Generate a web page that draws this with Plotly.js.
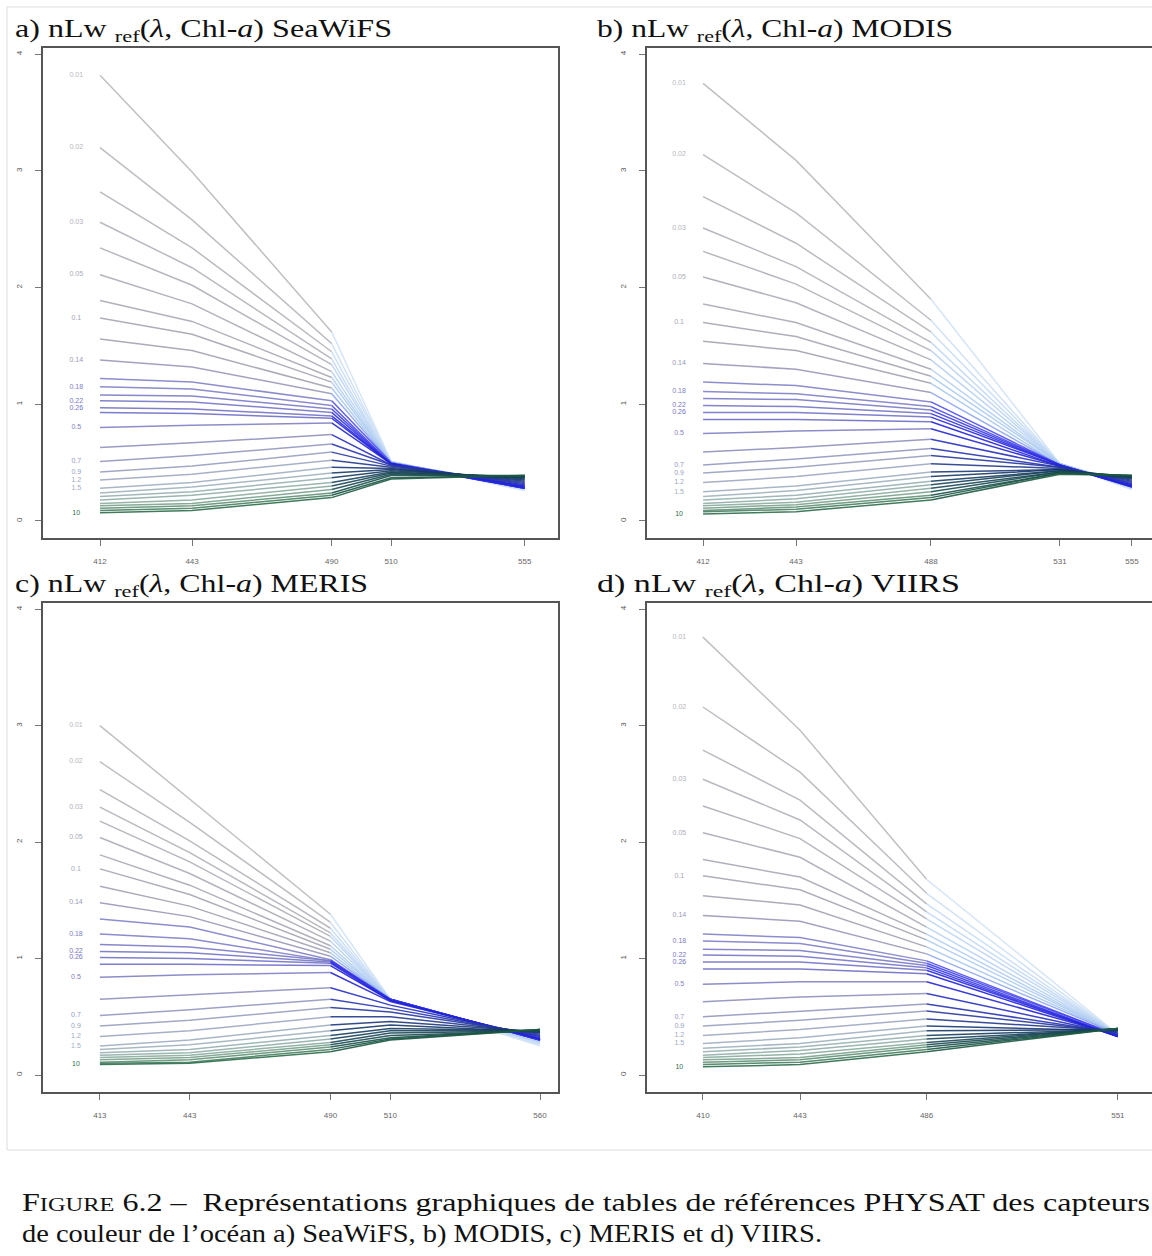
<!DOCTYPE html>
<html>
<head>
<meta charset="utf-8">
<script src="https://cdn.plot.ly/plotly-3.0.1.min.js"></script>
<style>html,body{margin:0;padding:0;background:#fff;}#chart{width:1152px;height:1256px;}</style>
</head>
<body>
<div id="chart"></div>
<script>
// ---------------- DATA ----------------
// Wavelengths (nm) of each sensor
const WL_SEAWIFS = [412, 443, 490, 510, 555];
const WL_MODIS   = [412, 443, 488, 531, 555];
const WL_MERIS   = [413, 443, 490, 510, 560];
const WL_VIIRS   = [410, 443, 486, 551];

// Tick labels
const TICKS_SEAWIFS = ["412", "443", "490", "510", "555"];
const TICKS_MODIS   = ["412", "443", "488", "531", "555"];
const TICKS_MERIS   = ["413", "443", "490", "510", "560"];
const TICKS_VIIRS   = ["410", "443", "486", "551"];

// Chl-a labels written at the left of the curves ("" = no label)
const CHL_LABELS = ["0.01","0.02","","0.03","","0.05","","0.1","","0.14","","0.18","","0.22","0.26","",
                    "0.5","","0.7","0.9","1.2","1.5","","","","","","","","10"];

// nLw_ref(lambda, Chl-a), one row per Chl-a class (low Chl at top)
const NLW_SEAWIFS = [
 [3.82,2.99,1.62,0.51,0.26],[3.20,2.58,1.52,0.51,0.27],[2.82,2.34,1.45,0.51,0.27],[2.56,2.17,1.39,0.50,0.28],
 [2.34,2.02,1.34,0.50,0.28],[2.11,1.86,1.28,0.50,0.29],[1.89,1.71,1.23,0.50,0.29],[1.74,1.60,1.19,0.50,0.30],
 [1.56,1.46,1.14,0.50,0.30],[1.38,1.32,1.09,0.50,0.30],[1.22,1.19,1.03,0.50,0.29],[1.15,1.13,0.99,0.49,0.29],
 [1.08,1.07,0.96,0.49,0.28],[1.03,1.02,0.93,0.49,0.28],[0.97,0.96,0.90,0.49,0.28],[0.93,0.92,0.88,0.49,0.29],
 [0.80,0.82,0.84,0.49,0.30],[0.63,0.67,0.74,0.48,0.31],[0.51,0.56,0.66,0.48,0.32],[0.42,0.47,0.59,0.47,0.33],
 [0.35,0.40,0.52,0.46,0.34],[0.28,0.33,0.46,0.45,0.35],[0.24,0.29,0.41,0.44,0.36],[0.21,0.25,0.37,0.43,0.37],
 [0.18,0.22,0.33,0.42,0.37],[0.15,0.18,0.30,0.41,0.38],[0.13,0.15,0.27,0.40,0.38],[0.11,0.13,0.24,0.39,0.39],
 [0.09,0.11,0.22,0.37,0.39],[0.07,0.09,0.20,0.36,0.39]
];
const NLW_MODIS = [
 [3.75,3.09,1.90,0.49,0.27],[3.14,2.64,1.72,0.49,0.28],[2.78,2.38,1.62,0.49,0.28],[2.51,2.18,1.53,0.49,0.29],
 [2.31,2.03,1.46,0.49,0.29],[2.09,1.87,1.38,0.49,0.30],[1.86,1.70,1.30,0.49,0.30],[1.70,1.58,1.24,0.49,0.31],
 [1.54,1.46,1.18,0.48,0.31],[1.35,1.30,1.10,0.48,0.31],[1.19,1.16,1.02,0.48,0.30],[1.11,1.09,0.98,0.48,0.30],
 [1.05,1.04,0.95,0.48,0.30],[0.99,0.98,0.92,0.48,0.29],[0.93,0.93,0.89,0.48,0.29],[0.87,0.87,0.85,0.47,0.30],
 [0.75,0.77,0.79,0.47,0.31],[0.59,0.63,0.70,0.47,0.32],[0.48,0.53,0.62,0.46,0.33],[0.41,0.46,0.56,0.46,0.34],
 [0.33,0.38,0.49,0.45,0.35],[0.25,0.30,0.42,0.44,0.36],[0.21,0.26,0.38,0.44,0.37],[0.18,0.22,0.34,0.43,0.37],
 [0.15,0.19,0.31,0.43,0.38],[0.13,0.16,0.28,0.42,0.38],[0.11,0.14,0.25,0.42,0.38],[0.09,0.12,0.22,0.41,0.39],
 [0.08,0.10,0.20,0.41,0.39],[0.06,0.08,0.18,0.40,0.39]
];
const NLW_MERIS = [
 [3.00,2.37,1.38,0.65,0.25],[2.69,2.17,1.31,0.65,0.26],[2.45,2.01,1.26,0.65,0.27],[2.30,1.91,1.22,0.65,0.28],
 [2.18,1.83,1.19,0.65,0.28],[2.04,1.73,1.15,0.65,0.29],[1.89,1.63,1.11,0.65,0.29],[1.77,1.55,1.08,0.65,0.30],
 [1.62,1.45,1.05,0.65,0.30],[1.48,1.36,1.02,0.65,0.30],[1.34,1.27,0.99,0.65,0.30],[1.21,1.17,0.98,0.65,0.30],
 [1.12,1.10,0.98,0.65,0.30],[1.06,1.05,0.97,0.65,0.30],[1.01,1.00,0.96,0.64,0.31],[0.95,0.95,0.94,0.64,0.31],
 [0.84,0.86,0.88,0.63,0.32],[0.65,0.69,0.75,0.60,0.33],[0.51,0.56,0.65,0.57,0.34],[0.42,0.47,0.58,0.54,0.35],
 [0.33,0.38,0.50,0.50,0.36],[0.25,0.30,0.43,0.46,0.37],[0.22,0.26,0.38,0.43,0.37],[0.19,0.22,0.34,0.40,0.38],
 [0.17,0.19,0.31,0.38,0.38],[0.15,0.17,0.28,0.36,0.38],[0.13,0.15,0.26,0.34,0.38],[0.11,0.13,0.24,0.32,0.39],
 [0.10,0.11,0.22,0.31,0.39],[0.09,0.10,0.20,0.30,0.39]
];
const NLW_VIIRS = [
 [3.76,2.96,1.68,0.35],[3.16,2.60,1.56,0.35],[2.79,2.36,1.47,0.35],[2.54,2.19,1.40,0.35],
 [2.31,2.03,1.34,0.35],[2.08,1.87,1.27,0.35],[1.85,1.70,1.21,0.35],[1.71,1.59,1.16,0.35],
 [1.54,1.46,1.10,0.35],[1.37,1.32,1.04,0.35],[1.21,1.18,0.98,0.34],[1.15,1.13,0.96,0.34],
 [1.08,1.07,0.94,0.33],[1.03,1.02,0.92,0.33],[0.97,0.97,0.90,0.33],[0.91,0.91,0.87,0.33],
 [0.78,0.80,0.80,0.34],[0.63,0.67,0.70,0.35],[0.50,0.55,0.61,0.36],[0.42,0.47,0.55,0.37],
 [0.34,0.39,0.48,0.38],[0.27,0.32,0.42,0.38],[0.23,0.27,0.38,0.39],[0.20,0.24,0.34,0.39],
 [0.17,0.21,0.31,0.39],[0.15,0.18,0.28,0.40],[0.13,0.15,0.26,0.40],[0.11,0.13,0.24,0.40],
 [0.09,0.11,0.22,0.40],[0.07,0.09,0.20,0.40]
];

// ---------------- STYLE ----------------
const W = 1152, H = 1256;
function hex2rgb(h){return [parseInt(h.slice(1,3),16),parseInt(h.slice(3,5),16),parseInt(h.slice(5,7),16)];}
function ramp(stops, t){
  for (let k=0;k<stops.length-1;k++){
    const [t0,c0]=stops[k],[t1,c1]=stops[k+1];
    if (t<=t1){
      const f=(t-t0)/(t1-t0), a=hex2rgb(c0), b=hex2rgb(c1);
      return 'rgb('+a.map((v,j)=>Math.round(v+(b[j]-v)*f)).join(',')+')';
    }
  }
  return stops[stops.length-1][1];
}
const LEFT_STOPS  = [[0,'#b9b9bd'],[0.30,'#a0a0b2'],[0.34,'#8282c8'],[0.52,'#6e6ec6'],[0.58,'#8e8ebe'],
                     [0.74,'#a2b2c2'],[0.88,'#86aa98'],[1,'#2c6c4a']];
const RIGHT_STOPS = [[0,'#d2e2f6'],[0.30,'#a2c4f0'],[0.34,'#5050f0'],[0.52,'#2020dc'],[0.64,'#2a38a8'],
                     [0.76,'#163866'],[1,'#1c5a40']];

const panels = [
  {wl:WL_SEAWIFS, tt:TICKS_SEAWIFS, v:NLW_SEAWIFS, split:2, px:[43,558],  py:[48,538],   xr:[392.8,566.2], title:'a) nLw <sub>ref</sub>(<i>λ</i>, Chl-<i>a</i>) SeaWiFS', tx:13,  ty:30,  tw:377, mir:true},
  {wl:WL_MODIS,   tt:TICKS_MODIS,   v:NLW_MODIS,   split:2, px:[647,1152], py:[48,538],   xr:[393.3,561.7], title:'b) nLw <sub>ref</sub>(<i>λ</i>, Chl-<i>a</i>) MODIS',   tx:595, ty:30,  tw:356, mir:false},
  {wl:WL_MERIS,   tt:TICKS_MERIS,   v:NLW_MERIS,   split:2, px:[43,558],  py:[603,1092], xr:[394.0,566.0], title:'c) nLw <sub>ref</sub>(<i>λ</i>, Chl-<i>a</i>) MERIS',   tx:13,  ty:586, tw:353, mir:true},
  {wl:WL_VIIRS,   tt:TICKS_VIIRS,   v:NLW_VIIRS,   split:2, px:[647,1152], py:[603,1092], xr:[391.0,562.6], title:'d) nLw <sub>ref</sub>(<i>λ</i>, Chl-<i>a</i>) VIIRS',   tx:595, ty:586, tw:363, mir:false}
];

const traces = [];
const layout = {
  width: W, height: H, margin:{l:0,r:0,t:0,b:0},
  paper_bgcolor:'#fff', plot_bgcolor:'#fff', showlegend:false,
  annotations:[], shapes:[]
};
const textWidths = [];

panels.forEach((p, k) => {
  const n = p.v.length;
  const xa = 'x'+(k?k+1:''), ya = 'y'+(k?k+1:'');
  p.v.forEach((row, i) => {
    const t = i/(n-1);
    traces.push({type:'scatter', mode:'lines', xaxis:xa, yaxis:ya, hoverinfo:'skip',
      x:p.wl.slice(0,p.split+1), y:row.slice(0,p.split+1),
      line:{color:ramp(LEFT_STOPS,t), width:1.5}, opacity:0.9});
    traces.push({type:'scatter', mode:'lines', xaxis:xa, yaxis:ya, hoverinfo:'skip',
      x:p.wl.slice(p.split), y:row.slice(p.split),
      line:{color:ramp(RIGHT_STOPS,t), width:1.5}, opacity:0.9});
  });
  // chl labels at the start of curves
  const lx=[], ly=[], lt=[], lc=[];
  p.v.forEach((row,i)=>{ if (CHL_LABELS[i]) { lx.push(p.wl[0]-8); ly.push(row[0]); lt.push(CHL_LABELS[i]); lc.push(ramp(LEFT_STOPS,i/(n-1))); }});
  traces.push({type:'scatter', mode:'text', xaxis:xa, yaxis:ya, hoverinfo:'skip',
    x:lx, y:ly, text:lt, textposition:'middle center',
    textfont:{family:'Liberation Sans, Arial, sans-serif', size:7, color:lc}});

  const xdom=[p.px[0]/W, p.px[1]/W], ydom=[1-p.py[1]/H, 1-p.py[0]/H];
  layout['xaxis'+(k?k+1:'')] = {
    domain:xdom, range:p.xr, anchor:ya, tickmode:'array', tickvals:p.wl, ticktext:p.tt,
    ticks:'outside', ticklen:6, tickwidth:1, tickcolor:'#777', ticklabelstandoff:8,
    tickfont:{family:'Liberation Sans, Arial, sans-serif', size:8, color:'#666'},
    showline:true, linecolor:'#555', linewidth:2, mirror:true,
    showgrid:false, zeroline:false, fixedrange:true
  };
  layout['yaxis'+(k?k+1:'')] = {
    domain:ydom, range:[-0.146,4.053], anchor:xa, tickmode:'array', tickvals:[0,1,2,3,4],
    ticktext:['0','1','2','3','4'], tickangle:-90,
    ticks:'outside', ticklen:6, tickwidth:1, tickcolor:'#777', ticklabelstandoff:10,
    tickfont:{family:'Liberation Sans, Arial, sans-serif', size:8, color:'#555'},
    showline:true, linecolor:'#555', linewidth:2, mirror:p.mir,
    showgrid:false, zeroline:false, fixedrange:true
  };
  layout.annotations.push({xref:'paper', yref:'paper', x:p.tx/W, y:1-p.ty/H, xanchor:'left', yanchor:'middle',
    align:'left', showarrow:false, text:p.title, font:{family:'Liberation Serif, serif', size:25, color:'#111'}});
  textWidths.push(p.tw);
});

// caption
const CAP_FONT = {family:'Liberation Serif, serif', size:25, color:'#111'};
layout.annotations.push({xref:'paper', yref:'paper', x:20/W, y:1-1202/H, xanchor:'left', yanchor:'middle', align:'left', showarrow:false,
  text:'F<span style="font-size:19px">IGURE</span> 6.2 –  Représentations graphiques de tables de références PHYSAT des capteurs', font:CAP_FONT});
textWidths.push(1128);
layout.annotations.push({xref:'paper', yref:'paper', x:20/W, y:1-1234/H, xanchor:'left', yanchor:'middle', align:'left', showarrow:false,
  text:'de couleur de l’océan a) SeaWiFS, b) MODIS, c) MERIS et d) VIIRS.', font:CAP_FONT});
textWidths.push(800);

// light frame around the figure
layout.shapes.push({type:'rect', xref:'paper', yref:'paper', x0:7/W, x1:1.02, y0:1-1150/H, y1:1-7/H,
  line:{color:'#dddddd', width:1}, fillcolor:'rgba(0,0,0,0)', layer:'below'});

Plotly.newPlot('chart', traces, layout, {staticPlot:true, displayModeBar:false}).then(gd => {
  // widen the serif texts to the width of the Computer Modern originals
  gd.querySelectorAll('g.annotation').forEach(g => {
    const idx = +g.getAttribute('data-index');
    const t = g.querySelector('text.annotation-text');
    if (t && textWidths[idx]) {
      t.setAttribute('textLength', textWidths[idx]);
      t.setAttribute('lengthAdjust', 'spacingAndGlyphs');
    }
  });
});
</script>
</body>
</html>
